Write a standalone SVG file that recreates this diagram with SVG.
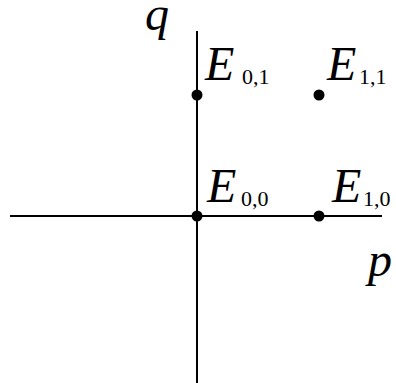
<svg xmlns="http://www.w3.org/2000/svg" width="396" height="383" viewBox="0 0 396 383">
<style>
.ax{stroke:#000;stroke-width:2;fill:none}
.pt{fill:#000}
.big{font-family:"Liberation Serif",serif;font-style:italic;font-size:48px;fill:#000}
.sub{font-family:"Liberation Serif",serif;font-size:22px;fill:#000}
</style>
<rect width="396" height="383" fill="#fff"/>
<g id="connectors">
<line class="ax" x1="197" y1="31" x2="197" y2="383"/>
<line class="ax" x1="10" y1="216" x2="382" y2="216"/>
</g>
<g id="axis-q"><text class="big" x="145" y="30" font-size="44">q</text></g>
<g id="axis-p"><text class="big" x="368" y="276">p</text></g>
<g id="E00"><circle class="pt" cx="197" cy="216" r="5.5"/><text class="big" x="207" y="202">E</text><text class="sub" x="241" y="206">0,0</text></g>
<g id="E10"><circle class="pt" cx="319" cy="216" r="5.5"/><text class="big" x="332" y="202">E</text><text class="sub" x="363" y="206">1,0</text></g>
<g id="E01"><circle class="pt" cx="197" cy="95" r="5.5"/><text class="big" x="205" y="80">E</text><text class="sub" x="242" y="84">0,1</text></g>
<g id="E11"><circle class="pt" cx="319" cy="95" r="5.5"/><text class="big" x="327" y="80">E</text><text class="sub" x="359" y="84">1,1</text></g>
</svg>
